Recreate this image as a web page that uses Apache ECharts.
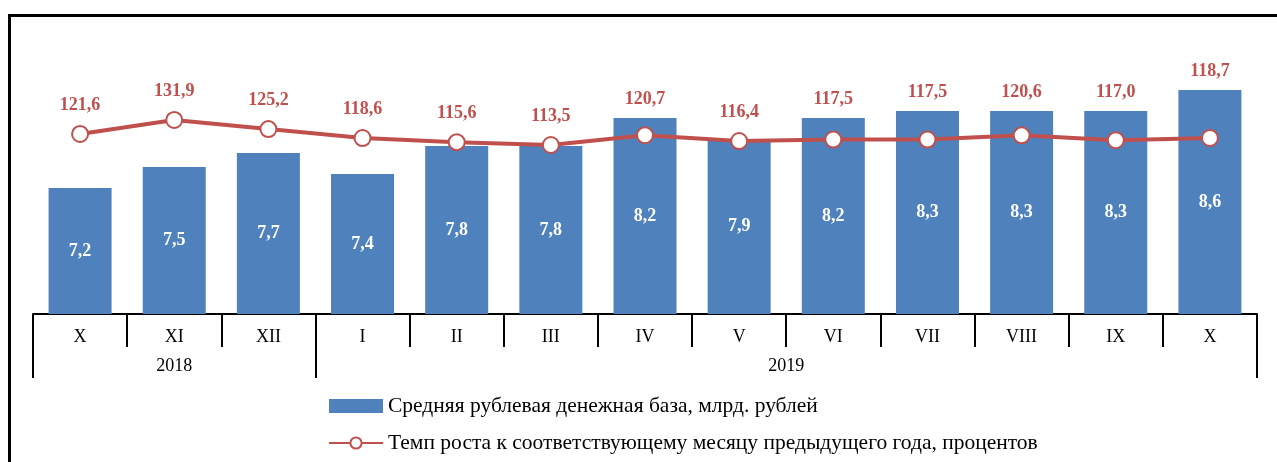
<!DOCTYPE html>
<html>
<head>
<meta charset="utf-8">
<script src="https://cdn.jsdelivr.net/npm/echarts@6/dist/echarts.min.js"></script>
<style>
    html, body { margin: 0; padding: 0; background: #fff; }
    #frame {
        position: absolute; left: 8px; top: 14px; right: 0; bottom: 0;
        border-left: 3px solid #000; border-top: 3px solid #000;
    }
    #chart { position: absolute; left: 0; top: 0; width: 1277px; height: 462px; }
</style>
</head>
<body>
<div id="frame"></div>
<div id="chart"></div>
<script>
// months (X.2018 - X.2019)
const months = ['X', 'XI', 'XII', 'I', 'II', 'III', 'IV', 'V', 'VI', 'VII', 'VIII', 'IX', 'X'];
// year groups: label, first month index, last month index
const years = [['2018', 0, 2], ['2019', 3, 12]];
// money base, bln rub
const moneyBase = [7.2, 7.5, 7.7, 7.4, 7.8, 7.8, 8.2, 7.9, 8.2, 8.3, 8.3, 8.3, 8.6];
// growth vs same month of previous year, %
const growthRate = [121.6, 131.9, 125.2, 118.6, 115.6, 113.5, 120.7, 116.4, 117.5, 117.5, 120.6, 117.0, 118.7];

const barName = 'Средняя рублевая денежная база, млрд. рублей';
const lineName = 'Темп роста к соответствующему месяцу предыдущего года, процентов';

const font = '"Liberation Serif", "Times New Roman", serif';
const red = '#C0504D';
const blue = '#4F81BD';
const fmt = v => v.toFixed(1).replace('.', ',');

// second axis on half-steps: year labels at span centres, separators at span edges
const yearSlots = new Array(months.length * 2 + 1).fill('');
const yearTicks = [];
years.forEach(([name, a, b]) => {
    yearSlots[a + b + 1] = name;
    yearTicks.push(a * 2);
});
yearTicks.push(months.length * 2);

const chart = echarts.init(document.getElementById('chart'));

const option = {
    animation: false,
    textStyle: { fontFamily: font },
    grid: { left: 33, right: 20, top: 20, bottom: 148 },
    legend: {
        orient: 'vertical',
        left: 323,
        top: 390,
        itemWidth: 54,
        itemHeight: 14,
        itemGap: 15,
        textStyle: { fontFamily: font, fontSize: 21.5, color: '#000' },
        data: [
            { name: barName, icon: 'rect' },
            { name: lineName }
        ]
    },
    xAxis: [
        {
            type: 'category',
            data: months,
            axisLine: { onZero: false, lineStyle: { color: '#000', width: 2 } },
            axisTick: { show: true, interval: 0, length: 33, lineStyle: { color: '#000', width: 2 } },
            axisLabel: { interval: 0, margin: 14, fontSize: 18, color: '#000', fontFamily: font }
        },
        {
            type: 'category',
            position: 'bottom',
            offset: 33,
            boundaryGap: false,
            data: yearSlots,
            axisLine: { show: false, onZero: false },
            axisTick: {
                interval: i => yearTicks.indexOf(i) >= 0,
                length: 31,
                lineStyle: { color: '#000', width: 2 }
            },
            axisLabel: {
                interval: i => yearSlots[i] !== '',
                margin: 10, fontSize: 18, color: '#000', fontFamily: font
            }
        }
    ],
    yAxis: [
        { type: 'value', min: 5.4, max: 9.6, show: false, splitLine: { show: false } },
        { type: 'value', min: -10.75, max: 205.4, show: false, splitLine: { show: false } }
    ],
    series: [
        {
            name: barName,
            type: 'bar',
            data: moneyBase,
            barWidth: 63,
            itemStyle: { color: blue },
            label: {
                show: true,
                position: 'inside',
                color: '#fff',
                fontWeight: 'bold',
                fontSize: 18,
                fontFamily: font,
                formatter: p => fmt(p.value)
            }
        },
        {
            name: lineName,
            type: 'line',
            yAxisIndex: 1,
            data: growthRate,
            symbol: 'circle',
            symbolSize: 16,
            lineStyle: { color: red, width: 4 },
            itemStyle: { color: '#fff', borderColor: red, borderWidth: 2 },
            label: {
                show: true,
                position: 'inside',
                color: red,
                fontWeight: 'bold',
                fontSize: 18,
                fontFamily: font,
                formatter: p => fmt(p.value)
            },
            z: 3
        }
    ]
};

chart.setOption(option);

// lift line labels above the bar when the bar is taller than the point
const lineData = growthRate.map((v, i) => {
    const py = chart.convertToPixel({ yAxisIndex: 1 }, v);
    const by = chart.convertToPixel({ yAxisIndex: 0 }, moneyBase[i]);
    const cy = Math.min(py - 29, by - 19);
    return { value: v, label: { offset: [0, cy - py] } };
});
chart.setOption({ series: [{}, { data: lineData }] });

window.addEventListener('resize', () => chart.resize());
</script>
</body>
</html>
